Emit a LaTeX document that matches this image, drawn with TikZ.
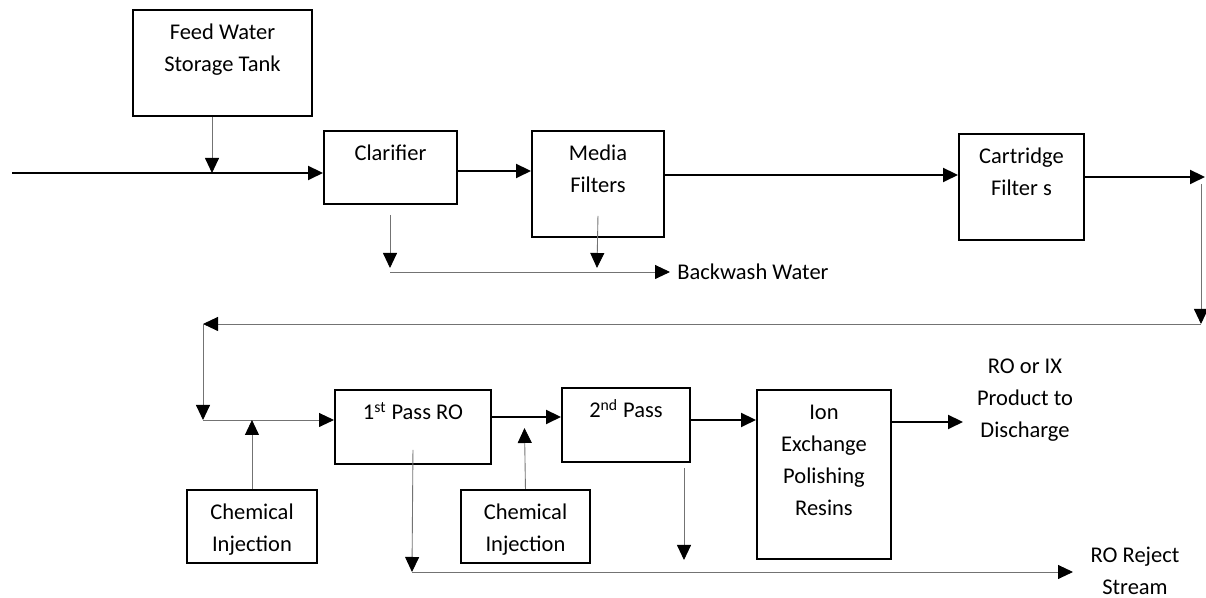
\documentclass[tikz,border=0pt]{standalone}
\usepackage{fontspec}
\setmainfont{Carlito}
\usetikzlibrary{arrows.meta}
\newcommand{\stacked}[1]{\begin{tabular}[t]{@{}c@{}}#1\end{tabular}}

\begin{document}
\begin{tikzpicture}[
  font=\fontsize{12.8}{18.2}\selectfont,
  unit/.style={draw, line width=1.1pt, inner sep=0pt, anchor=north west, text height=0.6cm},
  flow/.style={line width=1.2pt, -{Triangle[length=0.3cm,width=0.28cm]}},
  side/.style={black!55, line width=0.5pt, -{Triangle[length=0.3cm,width=0.28cm,color=black]}},
  tag/.style={inner sep=0pt, anchor=base}
]
\useasboundingbox (0,0) rectangle (24.12,11.96);

% pretreatment train
\node[unit, minimum width=3.58cm, text depth=1.52cm] (tank) at (2.64,11.78) {\stacked{Feed Water\\Storage Tank}};
\node[unit, minimum width=2.66cm, text depth=0.86cm] (clar) at (6.46,9.36) {Clarifier};
\node[unit, minimum width=2.64cm, text depth=1.52cm] (media) at (10.62,9.36) {\stacked{Media\\Filters}};
\node[unit, minimum width=2.50cm, text depth=1.52cm] (cart) at (19.16,9.30) {\stacked{Cartridge\\Filter s}};

\coordinate (in) at (0.24,8.50);
\coordinate (feed) at (4.24,8.50);
\coordinate (r1) at (0,8.54);
\coordinate (r2) at (0,8.46);
\coordinate (out) at (24.10,8.42);
\draw[flow] (in) -- (in -| clar.west);
\draw[side] (tank.south -| feed) -- (feed);
\draw[flow] (clar.east |- r1) -- (media.west |- r1);
\draw[flow] (media.east |- r2) -- (cart.west |- r2);
\draw[flow] (cart.east |- out) -- (out);

% backwash
\node[tag, anchor=base west] (bw) at (13.54,6.36) {Backwash Water};
\coordinate (bw1) at (7.80,6.60);
\coordinate (bw2) at (11.94,6.60);
\coordinate (bwl) at (7.80,6.52);
\draw[side] ([yshift=-0.2cm]clar.south -| bw1) -- (bw1);
\draw[side] ([yshift=0.44cm]media.south) -- (bw2);
\draw[side] (bwl) -- ([xshift=-0.14cm]bw.west |- bwl);

% loop back to the RO stage
\coordinate (rtop) at (24.02,8.28);
\coordinate (rbot) at (24.02,5.48);
\coordinate (lret) at (4.06,5.48);
\coordinate (lbot) at (4.06,3.56);
\draw[side] (rtop) -- (rbot);
\draw[side] (rbot) -- (lret);
\draw[side] (lret) -- (lbot);

% RO and polishing
\node[unit, minimum width=2.60cm, text depth=0.86cm] (chem1) at (3.72,2.18) {\stacked{Chemical\\Injection}};
\node[unit, minimum width=3.12cm, text depth=0.88cm] (pass1) at (6.68,4.18) {1\textsuperscript{st} Pass RO};
\node[unit, minimum width=2.58cm, text depth=0.86cm] (chem2) at (9.20,2.18) {\stacked{Chemical\\Injection}};
\node[unit, minimum width=2.56cm, text depth=0.88cm] (pass2) at (11.22,4.22) {2\textsuperscript{nd} Pass};
\node[unit, minimum width=2.68cm, text depth=2.78cm] (ion) at (15.12,4.18) {\stacked{Ion\\Exchange\\Polishing\\Resins}};
\node[tag] (prod) at (20.50,4.48) {\stacked{RO or IX\\Product to\\Discharge}};

\coordinate (r3) at (0,3.62);
\coordinate (r4) at (0,3.56);
\coordinate (r5) at (19.26,3.52);
\coordinate (chemtip) at (10.49,3.40);
\draw[side] (lbot) -- (lbot -| pass1.west);
\draw[side] (chem1.north) -- (chem1.north |- lbot);
\draw[flow] (pass1.east |- r3) -- (pass2.west |- r3);
\draw[side] (chem2.north) -- (chemtip);
\draw[flow] (pass2.east |- r4) -- (ion.west |- r4);
\draw[flow] (ion.east |- r5) -- (r5);

% reject stream
\node[tag] (rej) at (22.70,0.70) {\stacked{RO Reject\\Stream}};
\coordinate (rj1) at (8.24,0.52);
\coordinate (rj2) at (13.68,0.76);
\coordinate (rjend) at (21.46,0.52);
\draw[side] ([yshift=-0.46cm]pass1.center) -- (rj1);
\draw[side] ([yshift=-0.10cm]pass2.south -| rj2) -- (rj2);
\draw[side] (rj1) -- (rjend);
\end{tikzpicture}
\end{document}
